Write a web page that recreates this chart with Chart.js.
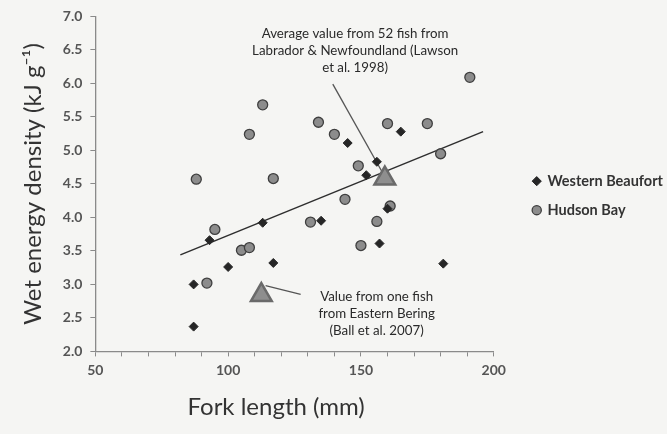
<!DOCTYPE html>
<html lang="en">
<head>
  <meta charset="UTF-8">
  <title>Wet energy density vs fork length</title>
  <script src="https://cdn.jsdelivr.net/npm/chart.js@4.4.3/dist/chart.umd.min.js"></script>
  <style>
    body {
      margin: 0;
      background-color: #f5f5f3;
    }
    .wrap {
      width: 667px;
      height: 434px;
    }
  </style>
</head>
<body>
  <div class="wrap">
    <canvas id="chart" width="667" height="434"></canvas>
  </div>

  <script>
    // Western Beaufort (diamonds)
    const beaufortX = [87, 87, 93, 100, 113, 117, 135, 145, 152, 156, 157, 160, 165, 181];
    const beaufortY = [2.37, 3.00, 3.66, 3.26, 3.92, 3.32, 3.95, 5.11, 4.63, 4.83, 3.61, 4.13, 5.28, 3.31];

    // Hudson Bay (circles)
    const hudsonX = [88, 92, 95, 105, 108, 108, 113, 117, 131, 134, 140, 144, 149, 150, 156, 160, 161, 175, 180, 191];
    const hudsonY = [4.57, 3.02, 3.82, 3.51, 3.55, 5.24, 5.68, 4.58, 3.93, 5.42, 5.24, 4.27, 4.77, 3.58, 3.94, 5.40, 4.17, 5.40, 4.95, 6.09];

    // literature values (triangles): Eastern Bering, Labrador & Newfoundland
    const referenceX = [112.5, 159];
    const referenceY = [2.84, 4.58];

    // linear trend line ends
    const trendX = [82, 196];
    const trendY = [3.44, 5.28];

    // leader lines for the two notes
    const labradorLineX = [139.4, 158.1];
    const labradorLineY = [5.99, 4.67];
    const beringLineX = [114.1, 127.3];
    const beringLineY = [2.98, 2.85];

    // notes: anchor (centre of first line) in data units
    const labradorNote = ['Average value from 52 fish from', 'Labrador & Newfoundland (Lawson', 'et al. 1998)'];
    const labradorNoteAt = [147.8, 6.74];
    const beringNote = ['Value from one fish', 'from Eastern Bering', '(Ball et al. 2007)'];
    const beringNoteAt = [155.9, 2.82];

    const xTicks = [50, 100, 150, 200];

    const pts = (xs, ys) => xs.map((x, i) => ({ x: x, y: ys[i] }));

    // draws the note texts at data positions
    const notesPlugin = {
      id: 'notes',
      afterDatasetsDraw(chart) {
        const c = chart.ctx;
        const sx = chart.scales.x, sy = chart.scales.y;
        c.save();
        c.font = '13.3px Lato';
        c.fillStyle = '#2a2a2a';
        c.textAlign = 'center';
        c.textBaseline = 'middle';
        [[labradorNote, labradorNoteAt], [beringNote, beringNoteAt]].forEach(([lines, at]) => {
          const px = sx.getPixelForValue(at[0]);
          const py = sy.getPixelForValue(at[1]);
          lines.forEach((t, i) => c.fillText(t, px, py + i * 17));
        });
        c.restore();
      }
    };

    const ctx = document.getElementById('chart').getContext('2d');
    const chart = new Chart(ctx, {
      type: 'scatter',
      data: {
        datasets: [
          {
            label: 'Western Beaufort',
            data: pts(beaufortX, beaufortY),
            pointStyle: 'rectRot',
            radius: 4.5,
            backgroundColor: '#262626',
            borderColor: '#262626',
            borderWidth: 1
          },
          {
            label: 'Hudson Bay',
            data: pts(hudsonX, hudsonY),
            pointStyle: 'circle',
            radius: 5,
            backgroundColor: '#8c8c8c',
            borderColor: '#3f3f3f',
            borderWidth: 1.3
          },
          {
            label: 'Literature',
            data: pts(referenceX, referenceY),
            pointStyle: 'triangle',
            radius: 12,
            backgroundColor: '#8e8e8e',
            borderColor: '#6a6a6a',
            borderWidth: 2.5
          },
          {
            label: 'Trend',
            type: 'line',
            data: pts(trendX, trendY),
            showLine: true,
            borderColor: '#2e2e2e',
            borderWidth: 1.5,
            pointRadius: 0
          },
          {
            label: 'Labrador note',
            type: 'line',
            data: pts(labradorLineX, labradorLineY),
            showLine: true,
            borderColor: '#555555',
            borderWidth: 1.3,
            pointRadius: 0
          },
          {
            label: 'Bering note',
            type: 'line',
            data: pts(beringLineX, beringLineY),
            showLine: true,
            borderColor: '#555555',
            borderWidth: 1.3,
            pointRadius: 0
          }
        ]
      },
      options: {
        responsive: false,
        animation: false,
        layout: { padding: { left: 15, top: 14, right: -6, bottom: 8 } },
        scales: {
          x: {
            type: 'linear',
            min: 50,
            max: 200,
            ticks: {
              stepSize: 10,
              autoSkip: false,
              color: '#555',
              font: { family: 'Lato', size: 14, weight: 'bold' },
              padding: 6,
              maxRotation: 0,
              callback: v => xTicks.includes(v) ? String(v) : ''
            },
            grid: { display: true, drawOnChartArea: false, tickLength: 5, color: '#8a8a8a' },
            border: { color: '#8a8a8a', width: 1.3 },
            title: {
              display: true,
              text: 'Fork length (mm)\u00A0\u00A0\u00A0\u00A0\u00A0\u00A0',
              color: '#333',
              font: { family: 'Lato', size: 24 },
              padding: { top: 8 }
            }
          },
          y: {
            min: 2,
            max: 7,
            ticks: {
              stepSize: 0.5,
              color: '#555',
              font: { family: 'Lato', size: 14, weight: 'bold' },
              padding: 8,
              callback: v => v.toFixed(1)
            },
            grid: { display: true, drawOnChartArea: false, tickLength: 5, color: '#8a8a8a' },
            border: { color: '#8a8a8a', width: 1.3 },
            title: {
              display: true,
              text: 'Wet energy density (kJ g\u207B\u00B9)',
              color: '#333',
              font: { family: 'Lato', size: 24 },
              padding: { bottom: 7 }
            }
          },
          // empty spacer between plot and legend
          gap: {
            position: 'right',
            display: true,
            grid: { display: false },
            border: { display: false },
            ticks: { display: false },
            afterFit: s => { s.width = 25; }
          }
        },
        plugins: {
          legend: {
            position: 'right',
            align: 'start',
            maxWidth: 220,
            title: { display: true, text: '', font: { size: 12 }, padding: { top: 0, bottom: 131 } },
            labels: {
              usePointStyle: true,
              boxWidth: 7,
              boxHeight: 6.5,
              padding: 14.5,
              color: '#333',
              font: { family: 'Lato', size: 14.5, weight: 'bold' },
              filter: item => item.datasetIndex < 2
            }
          },
          tooltip: { enabled: false }
        }
      },
      plugins: [notesPlugin]
    });
  </script>
</body>
</html>
